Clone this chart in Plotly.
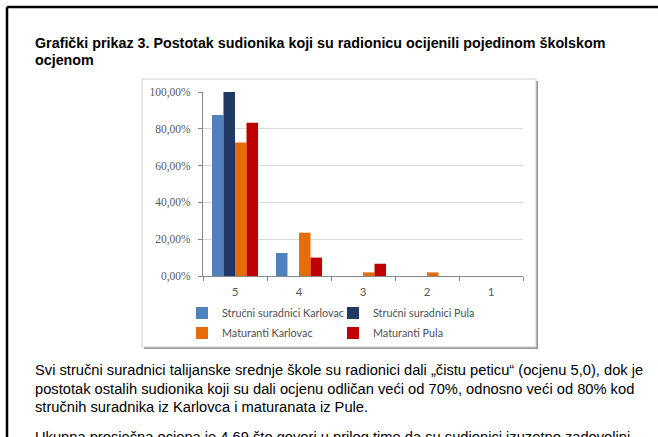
import plotly.graph_objects as go

# ── 데이터 ──
ocjene = ["5", "4", "3", "2", "1"]
strucni_karlovac = [87.5, 12.5, 0, 0, 0]
strucni_pula = [100.0, 0, 0, 0, 0]
maturanti_karlovac = [72.55, 23.53, 1.96, 1.96, 0]
maturanti_pula = [83.33, 10.0, 6.67, 0, 0]
y_ticks = [0, 20, 40, 60, 80, 100]
y_labels = ["0,00%", "20,00%", "40,00%", "60,00%", "80,00%", "100,00%"]

naslov = [
    "Grafički prikaz 3. Postotak sudionika koji su radionicu ocijenili pojedinom školskom",
    "ocjenom",
]
odlomak = [
    "Svi stručni suradnici talijanske srednje škole su radionici dali „čistu peticu“ (ocjenu 5,0), dok je",
    "postotak ostalih sudionika koji su dali ocjenu odličan veći od 70%, odnosno veći od 80% kod",
    "stručnih suradnika iz Karlovca i maturanata iz Pule.",
    "Ukupna prosječna ocjena je 4,69 što govori u prilog time da su sudionici izuzetno zadovoljni",
]

# ── 픽셀 → paper 좌표 ──
L, R, T, B = 203, 523, 92, 276


def px(x):
    return (x - L) / (R - L)


def py(y):
    return (B - y) / (B - T)


GRAY_TXT = "#595959"
AXIS_COL = "#868686"

fig = go.Figure()
series = [
    ("Stručni suradnici Karlovac", strucni_karlovac, "#4F81BD", "legend"),
    ("Stručni suradnici Pula", strucni_pula, "#1F3864", "legend"),
    ("Maturanti Karlovac", maturanti_karlovac, "#E46C0A", "legend2"),
    ("Maturanti Pula", maturanti_pula, "#C00000", "legend2"),
]
for name, vals, color, leg in series:
    fig.add_trace(go.Bar(
        x=ocjene, y=vals, name=name,
        marker=dict(color=color, line=dict(width=0)),
        legend=leg,
    ))

legend_common = dict(
    orientation="h", xanchor="left", yanchor="middle",
    font=dict(family="Lato", size=10.8, color="#505050"),
    entrywidth=106, entrywidthmode="pixels",
    bgcolor="rgba(0,0,0,0)", itemclick=False,
)

shapes = [
    # 문서 테두리
    dict(type="line", xref="paper", yref="paper", x0=px(7), y0=py(7), x1=px(700), y1=py(7),
         line=dict(color="black", width=2.5)),
    dict(type="line", xref="paper", yref="paper", x0=px(7), y0=py(7), x1=px(7), y1=py(500),
         line=dict(color="black", width=2.5)),
    # 차트 상자 (그림자 + 본체)
    dict(type="rect", xref="paper", yref="paper", x0=px(144), y0=py(81), x1=px(538), y1=py(349),
         fillcolor="#9a9a9a", line=dict(width=0), layer="below"),
    dict(type="rect", xref="paper", yref="paper", x0=px(142), y0=py(79), x1=px(536), y1=py(347),
         fillcolor="white", line=dict(color="#d0d0d0", width=1), layer="below"),
]

annotations = []
for line, yy in zip(naslov, [43, 60]):
    annotations.append(dict(
        text=f"<b>{line}</b>", x=px(33), y=py(yy), xref="paper", yref="paper",
        xanchor="left", yanchor="middle", showarrow=False,
        font=dict(family="Arial", size=14.3, color="black"),
    ))
for line, yy in zip(odlomak, [370, 389, 407, 437]):
    annotations.append(dict(
        text=line, x=px(33), y=py(yy), xref="paper", yref="paper",
        xanchor="left", yanchor="middle", showarrow=False,
        font=dict(family="Arial", size=14.7, color="black"),
    ))

fig.update_layout(
    width=658, height=437,
    margin=dict(l=L, r=658 - R, t=T, b=437 - B, pad=0),
    paper_bgcolor="white", plot_bgcolor="rgba(0,0,0,0)",
    barmode="group", bargap=0.28, bargroupgap=0,
    showlegend=True,
    legend=dict(x=px(182), y=py(313), **legend_common),
    legend2=dict(x=px(182), y=py(333), **legend_common),
    shapes=shapes, annotations=annotations,
    xaxis=dict(
        showline=True, linecolor=AXIS_COL, linewidth=1,
        ticks="outside", tickson="boundaries", ticklen=4, tickcolor=AXIS_COL,
        ticklabelstandoff=5,
        tickfont=dict(family="Lato", size=11.5, color=GRAY_TXT),
        showgrid=False, fixedrange=True,
    ),
    yaxis=dict(
        range=[0, 100], tickvals=y_ticks, ticktext=y_labels,
        showline=True, linecolor=AXIS_COL, linewidth=1,
        ticks="outside", ticklen=4, tickcolor=AXIS_COL,
        ticklabelstandoff=5,
        gridcolor="#d9d9d9", gridwidth=1, zeroline=False,
        tickfont=dict(family="Liberation Serif", size=11.5, color=GRAY_TXT),
        fixedrange=True,
    ),
)

# 본문 기본 여백 제거 (문서 스크린샷과 좌표 맞춤)
fig.write_html(
    "out.html",
    config={"displayModeBar": False},
    post_script="document.body.style.margin='0';",
)
